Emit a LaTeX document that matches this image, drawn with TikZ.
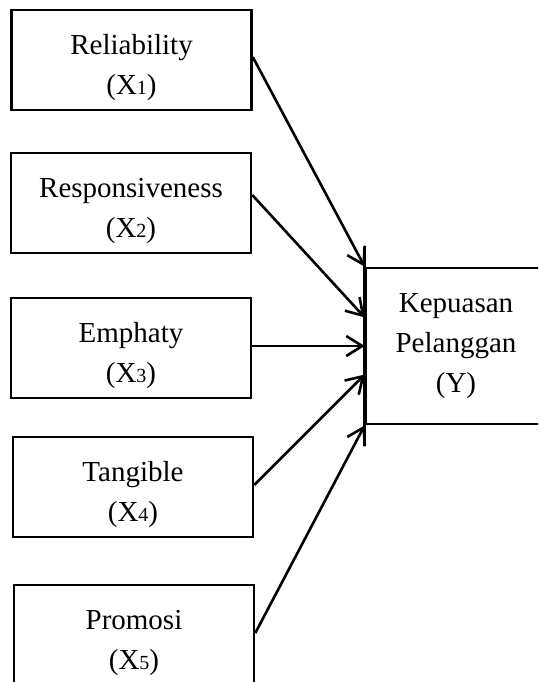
\documentclass[tikz,border=0pt]{standalone}
\usepackage{fontspec}
\setmainfont{Liberation Serif}
\usetikzlibrary{arrows.meta,calc}
\newcommand{\idx}[1]{{\fontsize{10}{10}\selectfont #1}}
\tikzset{
    VB/.style ={rectangle,minimum width = 120pt, minimum height = 50pt, draw, align=center, inner sep=0pt, text depth=0pt},
    YB/.style ={rectangle,minimum width = 90pt, minimum height = 78pt, draw, align=center, inner sep=0pt},
    AR/.style ={-{Straight Barb[length=8pt,width=10pt]}}}

\begin{document}
\begin{tikzpicture}[x=0.5pt,y=-0.5pt,line width=1.3pt,font=\fontsize{14.5}{20}\selectfont]
        \clip (0,0) rectangle (538,682);
        \node[VB] (1) at(131.5,60){\rule{0pt}{14pt}Reliability\\(X\idx{1})};
        \node[VB] (2) at(131,203){\rule{0pt}{14pt}Responsiveness\\(X\idx{2})};
        \node[VB] (3) at(131,348){\rule{0pt}{14pt}Emphaty\\(X\idx{3})};
        \node[VB] (4) at(133,487){\rule{0pt}{14pt}Tangible\\(X\idx{4})};
        \node[VB] (5) at(134,635){\rule{0pt}{14pt}Promosi\\(X\idx{5})};
        \node[YB] (6) at(456,346){Kepuasan\\Pelanggan\\(Y)};
        \draw ([yshift=10pt]6.north west) -- ([yshift=-10.5pt]6.south west);
        \draw[AR] ([yshift=1.5pt]1.east) --(6.north west);
        \draw[AR] ([yshift=4pt]2.east) --($(6.north west)!0.32!(6.south west)$);
        \draw[AR] ([yshift=1pt]3.east) --(6.west);
        \draw[AR] ([yshift=1pt]4.east) --($(6.north west)!0.68!(6.south west)$);
        \draw[AR] ([yshift=1pt]5.east) --(6.south west);
    \end{tikzpicture}
\end{document}
